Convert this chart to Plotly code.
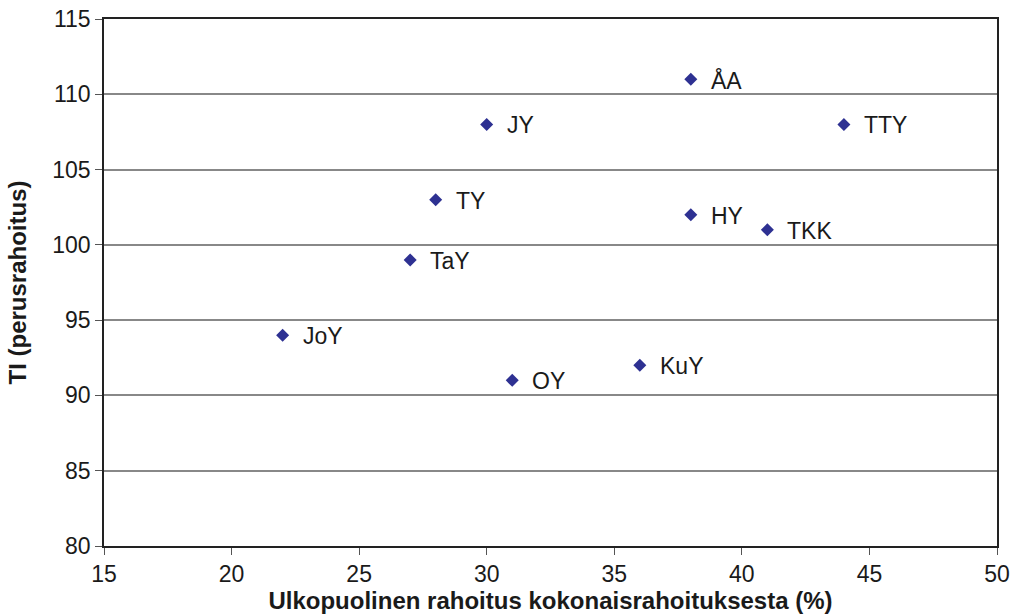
import plotly.graph_objects as go

names = ["JoY", "TaY", "TY", "JY", "OY", "KuY", "HY", "ÅA", "TKK", "TTY"]
ulkop = [22, 27, 28, 30, 31, 36, 38, 38, 41, 44]
ti = [94, 99, 103, 108, 91, 92, 102, 111, 101, 108]

x_ticks = [15, 20, 25, 30, 35, 40, 45, 50]
y_ticks = [80, 85, 90, 95, 100, 105, 110, 115]

FONT = "Liberation Sans, Arial, sans-serif"

fig = go.Figure()
fig.add_trace(go.Scatter(
    x=ulkop, y=ti, mode="markers",
    marker=dict(symbol="diamond", size=10, color="#2E3192"),
    showlegend=False, hoverinfo="text", text=names,
))

for n, xv, yv in zip(names, ulkop, ti):
    fig.add_annotation(x=xv, y=yv, text=n, showarrow=False, xanchor="left",
                       xshift=18, yshift=-1, font=dict(family=FONT, size=23, color="#1a1a1a"))

fig.update_layout(
    width=1012, height=614,
    margin=dict(l=104, r=15, t=19, b=68),
    paper_bgcolor="white", plot_bgcolor="white",
    font=dict(family=FONT, size=23, color="#1a1a1a"),
    xaxis=dict(range=[15, 50], tickvals=x_ticks, showgrid=False, zeroline=False,
               showline=True, linecolor="#222", linewidth=1.5, mirror=True,
               ticks="outside", ticklen=7, tickcolor="#555", automargin=False,
               tickfont=dict(size=23),
               title=dict(text="<b>Ulkopuolinen rahoitus kokonaisrahoituksesta (%)</b>",
                          font=dict(size=24), standoff=8)),
    yaxis=dict(range=[80, 115], tickvals=y_ticks, showgrid=True, gridcolor="#888",
               gridwidth=1.5, zeroline=False, automargin=False,
               showline=True, linecolor="#222", linewidth=1.5, mirror=True,
               ticks="outside", ticklen=7, tickcolor="#555",
               tickfont=dict(size=23),
               title=dict(text="<b>TI (perusrahoitus)</b>", font=dict(size=24), standoff=19)),
)

fig.write_html("out.html", config={"displayModeBar": False},
               post_script="document.body.style.margin='0';")
